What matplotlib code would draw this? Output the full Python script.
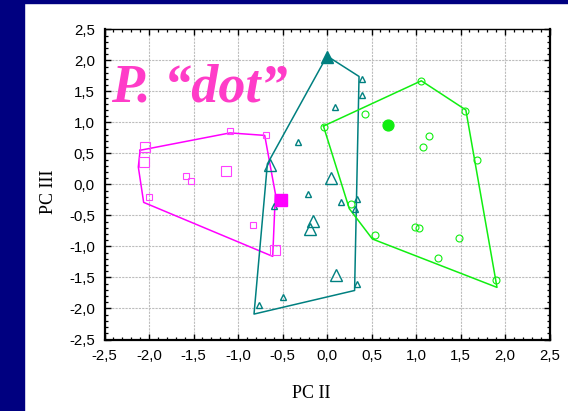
import matplotlib
matplotlib.use("Agg")
import matplotlib.pyplot as plt
from matplotlib.ticker import MultipleLocator, FuncFormatter
from matplotlib.patches import Rectangle

# ---- data (PC II, PC III) ----
sq_small_x = [-1.09, -0.69, -1.58, -1.53, -2.00, -0.83]
sq_small_y = [0.86, 0.80, 0.13, 0.05, -0.21, -0.66]
sq_big_x = [-2.05, -2.06, -1.14, -0.58]
sq_big_y = [0.60, 0.36, 0.21, -1.05]
sq_mean = (-0.52, -0.25)
sq_hull_x = [-2.10, -1.09, -0.70, -0.58, -0.61, -2.06, -2.12, -2.10]
sq_hull_y = [0.55, 0.83, 0.79, -0.15, -1.16, -0.29, 0.28, 0.55]

tr_small_x = [0.39, 0.39, 0.09, -0.33, -0.21, 0.16, 0.34, 0.32, -0.59, -0.76, -0.49, 0.34]
tr_small_y = [1.70, 1.44, 1.24, 0.69, -0.16, -0.29, -0.23, -0.39, -0.35, -1.95, -1.82, -1.60]
tr_big_x = [-0.64, 0.05, -0.16, -0.19, 0.10]
tr_big_y = [0.32, 0.10, -0.59, -0.72, -1.46]
tr_mean = (0.00, 2.05)
tr_hull_x = [0.00, 0.36, 0.31, -0.82, -0.67, 0.00]
tr_hull_y = [2.07, 1.74, -1.71, -2.09, 0.33, 2.07]

ci_x = [-0.03, 0.43, 1.06, 1.55, 1.15, 1.08, 1.68, 0.27, 0.54, 0.99, 1.03, 1.48, 1.25, 1.90]
ci_y = [0.93, 1.13, 1.66, 1.18, 0.78, 0.61, 0.40, -0.31, -0.81, -0.68, -0.71, -0.86, -1.18, -1.54]
ci_mean = (0.69, 0.96)
ci_hull_x = [-0.04, 1.06, 1.56, 1.91, 0.51, 0.25, -0.04]
ci_hull_y = [0.94, 1.67, 1.20, -1.66, -0.88, -0.39, 0.94]

ticks = [-2.5, -2.0, -1.5, -1.0, -0.5, 0.0, 0.5, 1.0, 1.5, 2.0, 2.5]

MAG = '#ff00ff'
MAG2 = '#ff40ff'
TEAL = '#008080'
GRN = '#11ee11'

fig = plt.figure(figsize=(5.68, 4.11), dpi=100, facecolor='white')
# dark blue frame strips
fig.patches.append(Rectangle((0, 0), 24/568, 1, transform=fig.transFigure,
                             color='#000080', zorder=0))
fig.patches.append(Rectangle((0, 1 - 3/411), 1, 3/411, transform=fig.transFigure,
                             color='#000080', zorder=0))

ax = fig.add_axes([104.5/568, 1 - 339.5/411, 445/568, 310.2/411])
ax.set_xlim(-2.5, 2.5)
ax.set_ylim(-2.5, 2.5)

ax.grid(True, color='#bdbdbd', linestyle=(0, (2, 1)), linewidth=0.8)
ax.set_axisbelow(True)

# hulls
ax.plot(sq_hull_x, sq_hull_y, color=MAG, lw=1.1, zorder=2)
ax.plot(tr_hull_x, tr_hull_y, color=TEAL, lw=1.1, zorder=2)
ax.plot(ci_hull_x, ci_hull_y, color=GRN, lw=1.1, zorder=2)

# squares
ax.plot(sq_small_x, sq_small_y, 's', ms=4.5, mfc='none', mec=MAG2, mew=0.8, zorder=3)
ax.plot(sq_big_x, sq_big_y, 's', ms=7.8, mfc='none', mec=MAG2, mew=0.8, zorder=3)
ax.plot([sq_mean[0]], [sq_mean[1]], 's', ms=8.2, mfc=MAG, mec=MAG, zorder=4)

# triangles
ax.plot(tr_small_x, tr_small_y, '^', ms=5, mfc='none', mec=TEAL, mew=1.0, zorder=3)
ax.plot(tr_big_x, tr_big_y, '^', ms=9, mfc='none', mec=TEAL, mew=1.0, zorder=3)
ax.plot([tr_mean[0]], [tr_mean[1]], '^', ms=8.5, mfc=TEAL, mec=TEAL, zorder=4)

# circles
ax.plot(ci_x, ci_y, 'o', ms=5, mfc='none', mec=GRN, mew=0.8, zorder=3)
ax.plot([ci_mean[0]], [ci_mean[1]], 'o', ms=7.8, mfc=GRN, mec=GRN, zorder=4)

# axes styling
ax.xaxis.set_minor_locator(MultipleLocator(0.1))
ax.yaxis.set_minor_locator(MultipleLocator(0.1))
ax.set_xticks(ticks)
ax.set_yticks(ticks)
fmt = FuncFormatter(lambda v, p: f"{v:.1f}".replace('.', ',').replace('-0,0', '0,0'))
ax.xaxis.set_major_formatter(fmt)
ax.yaxis.set_major_formatter(fmt)
ax.tick_params(which='both', direction='in', top=True, right=True,
               labelfontfamily='Liberation Sans', labelsize=10.8, colors='black')
ax.tick_params(which='major', length=4, width=1.0, pad=7)
ax.tick_params(which='minor', length=2.2, width=0.9)
for s in ['left', 'bottom', 'right']:
    ax.spines[s].set_linewidth(1.6)
ax.spines['top'].set_linewidth(1.0)

fig.text(311/568, 1 - 393/411, 'PC II', ha='center', va='center',
         fontfamily='Liberation Serif', fontsize=13)
fig.text(48.3/568, 1 - 191.7/411, 'PC III', ha='center', va='center', rotation=90,
         fontfamily='Liberation Serif', fontsize=13)

ax.text(111.5/568, 1 - 101.7/411, 'P. \u201cdot\u201d', transform=fig.transFigure,
        ha='left', va='baseline', fontfamily='Liberation Serif', fontsize=39,
        fontweight='bold', fontstyle='italic', color='#ff3cc8', zorder=5)

fig.savefig('out.png', dpi=100, facecolor='white')
